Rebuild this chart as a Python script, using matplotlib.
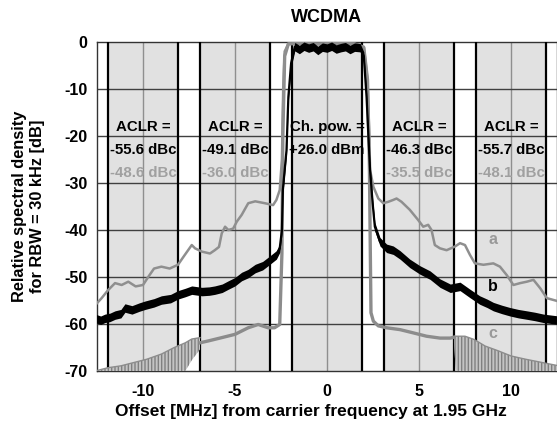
import matplotlib
matplotlib.use("Agg")
import matplotlib.pyplot as plt
import numpy as np

plt.rcParams["font.family"] = ["Liberation Sans", "DejaVu Sans"]
plt.rcParams["font.weight"] = "bold"
plt.rcParams["axes.unicode_minus"] = False
plt.rcParams["hatch.linewidth"] = 1.0

# channel layout (MHz offset) and measured values
channel_centers = [-10, -5, 0, 5, 10]
channel_bw = 3.84
head_labels = ["ACLR =", "ACLR =", "Ch. pow. =", "ACLR =", "ACLR ="]
b_labels = ["-55.6 dBc", "-49.1 dBc", "+26.0 dBm", "-46.3 dBc", "-55.7 dBc"]
a_labels = ["-48.6 dBc", "-36.0 dBc", "", "-35.5 dBc", "-48.1 dBc"]

# curve a (gray, upper)
a_x = [-12.6, -12.25, -11.9, -11.52, -11.16, -10.8, -10.4, -10.0, -9.7, -9.4,
       -9.0, -8.55, -8.1, -7.8, -7.35, -7.17, -6.8, -6.36, -6.1, -5.87,
       -5.72, -5.54, -5.36, -5.1, -4.9, -4.64, -4.28, -3.9, -3.38, -2.93,
       -2.75, -2.57, -2.45, -2.38, -2.3, -2.1, -1.5, -0.5, 0.5, 1.5,
       2.0, 2.2, 2.3, 2.34, 2.52, 2.79, 3.06, 3.33, 3.6, 3.78,
       4.05, 4.5, 4.96, 5.23, 5.5, 5.68, 5.86, 6.14, 6.5, 6.96,
       7.23, 7.5, 7.77, 8.04, 8.5, 9.04, 9.4, 9.77, 10.13, 10.5,
       10.86, 11.22, 11.59, 11.95, 12.6]
a_y = [-56.0, -54.5, -52.8, -51.3, -51.7, -51.0, -52.0, -51.7, -49.9, -48.2,
       -47.8, -48.2, -47.4, -45.7, -43.2, -43.9, -44.6, -45.0, -44.3, -43.6,
       -40.7, -39.3, -40.0, -39.7, -38.2, -36.8, -34.3, -33.9, -34.3, -34.7,
       -33.6, -31.5, -25.0, -10.0, -2.0, -0.4, -0.3, -0.5, -0.3, -0.4,
       -1.0, -8.0, -20.0, -27.2, -30.8, -33.3, -34.3, -34.0, -33.6, -33.3,
       -34.0, -35.7, -37.9, -39.3, -38.9, -40.0, -43.2, -43.9, -44.3, -43.5,
       -42.8, -43.2, -45.3, -47.1, -47.4, -47.1, -47.8, -49.6, -51.7, -51.3,
       -51.0, -50.6, -52.4, -54.5, -55.2]

# curve b (black, measured)
b_x = [-12.6, -12.3, -12.07, -11.8, -11.52, -11.2, -10.98, -10.6, -10.2, -9.88,
       -9.4, -9.0, -8.5, -8.1, -7.7, -7.35, -6.8, -6.4, -6.1, -5.7,
       -5.36, -5.0, -4.64, -4.3, -3.9, -3.5, -3.2, -2.75, -2.57, -2.45,
       -2.4, -2.2, -2.1, -1.95, -1.75, -1.5, -1.25, -1.0, -0.75, -0.5,
       -0.25, 0.0, 0.25, 0.5, 0.75, 1.0, 1.25, 1.5, 1.8, 2.0,
       2.15, 2.25, 2.34, 2.48, 2.6, 2.88, 3.24, 3.6, 3.97, 4.5,
       5.05, 5.6, 6.14, 6.7, 7.23, 7.77, 8.3, 8.7, 9.04, 9.5,
       9.95, 10.4, 10.86, 11.3, 11.77, 12.6]
b_y = [-58.8, -59.2, -58.8, -58.6, -58.1, -57.8, -56.6, -57.0, -56.4, -56.0,
       -55.5, -54.9, -54.6, -53.8, -53.3, -52.8, -53.1, -53.0, -52.8, -52.4,
       -51.7, -51.0, -49.9, -49.3, -48.2, -47.6, -46.7, -45.3, -43.9, -40.0,
       -31.5, -23.0, -11.7, -4.5, -1.0, -1.6, -0.9, -1.3, -1.0, -1.8,
       -1.1, -1.3, -0.9, -1.5, -1.2, -1.0, -1.6, -1.1, -1.2, -3.0,
       -11.7, -20.0, -27.2, -34.3, -39.3, -42.5, -43.9, -44.3, -45.3, -47.1,
       -48.5, -49.6, -51.3, -52.4, -52.0, -53.5, -54.9, -55.6, -56.3, -56.9,
       -57.4, -57.8, -58.1, -58.4, -58.8, -59.2]
b_noise = 0.9  # half height of the noise band, dB

# curve c (gray, lower) - smooth part
c_x = [-6.9, -6.45, -5.72, -5.0, -4.28, -3.74, -3.2, -2.85, -2.57, -2.45,
       -2.4, -2.3, -2.1, -1.5, -0.5, 0.5, 1.5, 2.0, 2.2, 2.3,
       2.39, 2.52, 2.79, 3.24, 3.97, 4.7, 5.41, 6.14, 6.7, 6.9]
c_y = [-64.0, -63.6, -62.9, -62.2, -60.8, -60.1, -60.8, -60.8, -60.1, -45.0,
       -20.0, -3.0, -0.4, -0.3, -0.4, -0.3, -0.4, -1.2, -8.0, -25.0,
       -57.6, -59.4, -60.4, -60.8, -61.2, -61.9, -62.6, -63.0, -63.0, -62.8]

# curve c - oscillating parts (envelope top / bottom)
cl_x = [-12.6, -11.9, -11.2, -10.5, -9.8, -9.0, -8.3, -7.7, -7.35, -6.9]
cl_top = [-70.0, -69.3, -68.9, -68.2, -67.5, -66.4, -65.0, -64.0, -63.2, -62.9]
cl_bot = [-70.0, -70.0, -70.0, -70.0, -70.0, -70.0, -70.0, -70.0, -67.7, -65.4]
cr_x = [6.9, 7.0, 7.5, 8.0, 8.6, 9.3, 10.0, 10.8, 11.7, 12.6]
cr_top = [-62.8, -62.6, -62.6, -63.3, -64.7, -65.7, -66.8, -67.5, -68.2, -68.9]
cr_bot = [-64.0, -70.0, -70.0, -70.0, -70.0, -70.0, -70.0, -70.0, -70.0, -70.0]

curve_labels = [("a", 9.0, -42.0, "#999999"), ("b", 9.0, -52.0, "black"),
                ("c", 9.0, -62.0, "#999999")]

fig = plt.figure(figsize=(5.57, 4.24), dpi=100)
ax = fig.add_axes([97 / 557, 1 - 371 / 424, 460 / 557, 329 / 424])

# shaded channels with black borders
for c in channel_centers:
    lo, hi = c - channel_bw / 2, c + channel_bw / 2
    ax.axvspan(lo, hi, color="#e1e1e1", lw=0, zorder=0)
    ax.axvline(lo, color="black", lw=1.6, zorder=3)
    ax.axvline(hi, color="black", lw=1.6, zorder=3)

for xv in [-10, -5, 0, 5, 10]:
    ax.axvline(xv, color="#8f8f8f", lw=1.0, zorder=1)
for yv in range(-60, 0, 10):
    ax.axhline(yv, color="#404040", lw=1.0, zorder=1)

# channel text, drawn under the curves
for c, h, tb, ta in zip(channel_centers, head_labels, b_labels, a_labels):
    ax.text(c, -18.0, h, ha="center", va="center", fontsize=10.8,
            fontweight="bold", color="black", zorder=2)
    ax.text(c, -23.0, tb, ha="center", va="center", fontsize=10.8,
            fontweight="bold", color="black", zorder=2)
    if ta:
        ax.text(c, -27.8, ta, ha="center", va="center", fontsize=10.8,
                fontweight="bold", color="#a0a0a0", zorder=2)

# oscillating skirts of c as hatched bands
for xs, lo, hi in [(cl_x, cl_bot, cl_top), (cr_x, cr_bot, cr_top)]:
    ax.fill_between(xs, lo, hi, facecolor="#c4c4c4", edgecolor="#808080",
                    hatch="|||||", lw=0, zorder=4)
    ax.plot(xs, hi, color="#8c8c8c", lw=1.0, zorder=4)
ax.plot(c_x, c_y, color="#8c8c8c", lw=2.4, zorder=4)
ax.plot(a_x, a_y, color="#8f8f8f", lw=1.8, zorder=5)

b_y = np.array(b_y)
ax.fill_between(b_x, b_y - b_noise, b_y + b_noise, color="black", lw=0,
                zorder=6)
ax.plot(b_x, b_y, color="black", lw=1.6, zorder=6)

for txt, xv, yv, col in curve_labels:
    ax.text(xv, yv, txt, ha="center", va="center", fontsize=11.5,
            fontweight="bold", color=col, zorder=7)

ax.set_xlim(-12.5, 12.5)
ax.set_ylim(-70, 0)
ax.set_xticks([-10, -5, 0, 5, 10])
ax.set_yticks(range(-70, 1, 10))
ax.tick_params(axis="x", length=0, labelsize=11.5, pad=9)
ax.tick_params(axis="y", length=0, labelsize=11.5, pad=7)
for lab in ax.get_xticklabels() + ax.get_yticklabels():
    lab.set_fontweight("bold")
for s in ax.spines.values():
    s.set_color("#333333")
    s.set_linewidth(1.0)

fig.text(327 / 557, 1 - 17 / 424, "WCDMA", ha="center", va="center",
         fontsize=13, fontweight="bold")
ax.set_xlabel("Offset [MHz] from carrier frequency at 1.95 GHz",
              fontsize=12.5, fontweight="bold")
ax.xaxis.set_label_coords(0.465, -0.10)
ax.set_ylabel("Relative spectral density\nfor RBW = 30 kHz [dB]",
              fontsize=11.8, fontweight="bold", linespacing=1.25)
ax.yaxis.set_label_coords(-0.113, 0.5)

fig.savefig("out.png", dpi=100)
